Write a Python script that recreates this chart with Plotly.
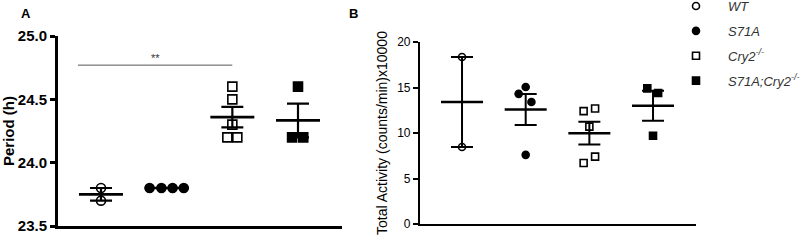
import numpy as np
import plotly.graph_objects as go

# ---------------- data ----------------
groups = ["WT", "S71A", "Cry2-/-", "S71A;Cry2-/-"]
legend_names = ["<i>WT</i>", "<i>S71A</i>", "<i>Cry2<sup>-/-</sup></i>", "<i>S71A;Cry2<sup>-/-</sup></i>"]
symbols = ["circle-open", "circle", "square-open", "square"]

# Panel A: period (h)
period_wt = [23.8, 23.7]
period_s71a = [23.8, 23.8, 23.8, 23.8]
period_cry2 = [24.6, 24.5, 24.3, 24.2, 24.2]
period_double = [24.6, 24.2, 24.2]
period_jitter = [[0, 0], [-0.26, -0.08, 0.09, 0.26], [0, 0, 0, -0.076, 0.076], [0, -0.09, 0.08]]

# Panel B: total activity (counts/min x10000)
activity_wt = [18.35, 8.46]
activity_s71a = [15.05, 14.3, 13.4, 7.6]
activity_cry2 = [12.4, 12.7, 10.7, 7.4, 6.7]
activity_double = [14.9, 14.4, 9.7]
activity_jitter = [[0, 0], [0, -0.11, 0.09, 0], [-0.09, 0.09, 0, 0.09, -0.09], [-0.09, 0.08, 0]]

period_ticks = [23.5, 24.0, 24.5, 25.0]
period_ticklabels = ["23.5", "24.0", "24.5", "25.0"]
activity_ticks = [0, 5, 10, 15, 20]

sig_y = 24.77
sig_x = [0.65, 3.0]

period_sets = [period_wt, period_s71a, period_cry2, period_double]
activity_sets = [activity_wt, activity_s71a, activity_cry2, activity_double]

FONT = "Liberation Sans, Arial, sans-serif"

W, H = 800, 250


def fx(px):
    return px / W


def fy(py):
    return 1 - py / H


fig = go.Figure()


def add_panel(sets, jitter, xa, ya, size, show_legend, mean_half, cap, thick):
    for i, vals in enumerate(sets):
        pos = i + 1
        fig.add_trace(go.Scatter(
            x=[pos + j for j in jitter[i]], y=vals, mode="markers",
            xaxis=xa, yaxis=ya,
            marker=dict(symbol=symbols[i], size=size, color="black",
                        line=dict(width=1.6, color="black")),
            name=legend_names[i], legendgroup=groups[i], showlegend=show_legend,
        ))
    for i, vals in enumerate(sets):
        pos = i + 1
        arr = np.array(vals, dtype=float)
        m = arr.mean()
        sem = arr.std(ddof=1) / np.sqrt(len(arr))
        fig.add_trace(go.Scatter(
            x=[pos], y=[m], mode="markers", xaxis=xa, yaxis=ya,
            marker=dict(size=2, color="rgba(0,0,0,0)"),
            error_y=dict(type="data", array=[sem], width=cap, thickness=thick, color="black"),
            error_x=dict(type="data", array=[mean_half], width=0, thickness=thick + 0.5, color="black"),
            showlegend=False, hoverinfo="skip",
        ))


add_panel(period_sets, period_jitter, "x", "y", 9, False, 0.335, 11, 2.2)
add_panel(activity_sets, activity_jitter, "x2", "y2", 7, True, 0.33, 11, 2)

# significance bar
fig.add_shape(type="line", xref="x", yref="y", x0=sig_x[0], x1=sig_x[1], y0=sig_y, y1=sig_y,
              line=dict(color="#555555", width=1))
fig.add_annotation(xref="x", yref="y", x=(sig_x[0] + sig_x[1]) / 2, y=sig_y, text="**",
                   showarrow=False, yanchor="bottom", yshift=-1,
                   font=dict(family=FONT, size=11, color="#333333"))

# panel letters
fig.add_annotation(xref="paper", yref="paper", x=fx(26), y=fy(13), text="<b>A</b>",
                   xanchor="center", yanchor="middle",
                   showarrow=False, font=dict(family=FONT, size=13, color="black"))
fig.add_annotation(xref="paper", yref="paper", x=fx(353), y=fy(13), text="<b>B</b>",
                   xanchor="center", yanchor="middle",
                   showarrow=False, font=dict(family=FONT, size=13, color="black"))

fig.update_layout(
    width=W, height=H,
    margin=dict(l=0, r=0, t=0, b=0, autoexpand=False),
    plot_bgcolor="white", paper_bgcolor="white",
    font=dict(family=FONT, color="black"),
    xaxis=dict(domain=[fx(58), fx(342)], range=[0.345, 4.67], showticklabels=False,
               ticks="", showgrid=False, zeroline=False, showline=True, linewidth=3,
               linecolor="black", anchor="y"),
    yaxis=dict(domain=[fy(226), fy(36)], range=[23.5, 25.0],
               tickvals=period_ticks, ticktext=period_ticklabels,
               ticks="outside", ticklen=5, tickwidth=2.5, tickcolor="black",
               tickfont=dict(family=FONT, size=15, weight="bold"),
               showgrid=False, zeroline=False, showline=True, linewidth=3, linecolor="black",
               title=dict(text="Period (h)", font=dict(family=FONT, size=15, weight="bold"), standoff=4),
               automargin=False, anchor="x"),
    xaxis2=dict(domain=[fx(420), fx(696)], range=[0.34, 4.675], showticklabels=False,
                ticks="", showgrid=False, zeroline=False, showline=True, linewidth=2.2,
                linecolor="black", anchor="y2"),
    yaxis2=dict(domain=[fy(224), fy(42)], range=[0, 20],
                tickvals=activity_ticks,
                ticks="outside", ticklen=5, tickwidth=2, tickcolor="black",
                tickfont=dict(family=FONT, size=12),
                showgrid=False, zeroline=False, showline=True, linewidth=2.2, linecolor="black",
                title=dict(text="Total Activity (counts/min)x10000", font=dict(family=FONT, size=14), standoff=6),
                automargin=False, anchor="x2"),
    legend=dict(x=fx(664), y=1.036, xanchor="left", yanchor="top", itemwidth=54,
                font=dict(family=FONT, size=13, color="#333333"),
                tracegroupgap=5, bgcolor="rgba(0,0,0,0)"),
)

# remove the browser's default 8px page margin so the figure sits at the page origin
fig.write_html("out.html", config={"displayModeBar": False},
               post_script="document.body.style.margin='0';")
